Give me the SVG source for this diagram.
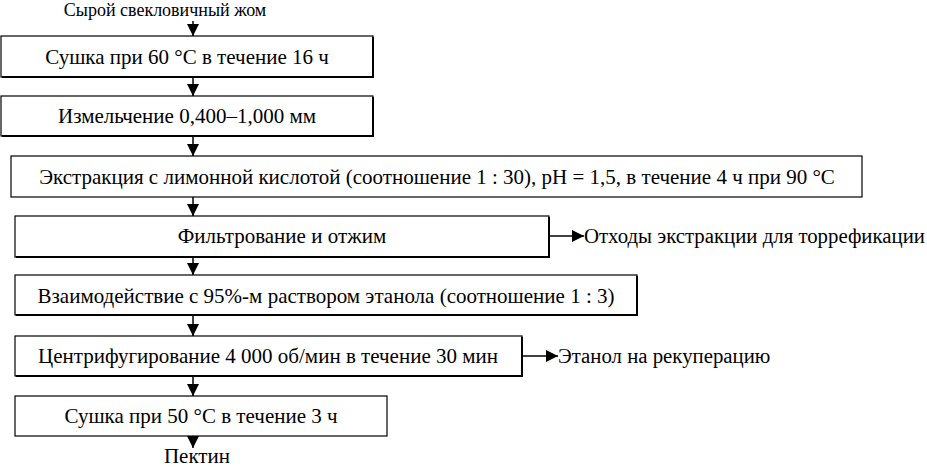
<svg xmlns="http://www.w3.org/2000/svg" width="927" height="467" viewBox="0 0 927 467">
<style>
.b{fill:#fff;stroke:#000;stroke-width:1.2}
.s{fill:none;stroke:#000;stroke-width:2}
.t{font-family:"Liberation Serif","Times New Roman","Liberation Sans",serif;font-size:21px;fill:#000}
.c{text-anchor:middle}
.r{font-size:20.8px}
.l{stroke:#000;stroke-width:1.5;fill:none}
</style>
<defs>
<marker id="a" markerUnits="userSpaceOnUse" markerWidth="12" markerHeight="12" refX="12" refY="6" orient="auto">
<path d="M0,0 L12,6 L0,12 z" fill="#000"/>
</marker>
</defs>
<rect width="927" height="467" fill="#fff"/>
<text id="t0" class="t c" x="165" y="16" style="font-size:18px">Сырой свекловичный жом</text>
<g id="n1"><rect class="b" x="1" y="36" width="372" height="41"/><path class="s" d="M373,37 V77 H2"/><text class="t c" x="187" y="64">Сушка при 60 °С в течение 16 ч</text></g>
<g id="n2"><rect class="b" x="1" y="96" width="372" height="40"/><path class="s" d="M373,97 V136 H2"/><text class="t c" x="187" y="123">Измельчение 0,400–1,000 мм</text></g>
<g id="n3"><rect class="b" x="11" y="156" width="851" height="41"/><text class="t c" x="437" y="184">Экстракция с лимонной кислотой (соотношение 1 : 30), pH = 1,5, в течение 4 ч при 90 °С</text></g>
<g id="n4"><rect class="b" x="15" y="216" width="534" height="41"/><path class="s" d="M549,217 V257 H16"/><text class="t c" x="282" y="243">Фильтрование и отжим</text></g>
<g id="n5"><rect class="b" x="15" y="275" width="622" height="40"/><path class="s" d="M637,276 V315 H16"/><text class="t c" x="326" y="303">Взаимодействие с 95%-м раствором этанола (соотношение 1 : 3)</text></g>
<g id="n6"><rect class="b" x="15" y="336" width="507" height="40"/><path class="s" d="M522,337 V376 H16"/><text class="t c" x="268" y="363">Центрифугирование 4 000 об/мин в течение 30 мин</text></g>
<g id="n7"><rect class="b" x="15" y="396" width="372" height="40"/><text class="t c" x="201" y="423">Сушка при 50 °С в течение 3 ч</text></g>
<text id="t1" class="t r" x="584" y="243">Отходы экстракции для торрефикации</text>
<text id="t2" class="t r" x="558" y="363">Этанол на рекуперацию</text>
<text id="t3" class="t c" x="197" y="463">Пектин</text>
<g id="connectors">
<line class="l" x1="193" y1="21" x2="193" y2="36" marker-end="url(#a)"/>
<line class="l" x1="193" y1="78" x2="193" y2="96" marker-end="url(#a)"/>
<line class="l" x1="193" y1="137" x2="193" y2="156" marker-end="url(#a)"/>
<line class="l" x1="193" y1="197" x2="193" y2="216" marker-end="url(#a)"/>
<line class="l" x1="193" y1="258" x2="193" y2="275" marker-end="url(#a)"/>
<line class="l" x1="193" y1="316" x2="193" y2="336" marker-end="url(#a)"/>
<line class="l" x1="193" y1="377" x2="193" y2="396" marker-end="url(#a)"/>
<line class="l" x1="193" y1="436" x2="193" y2="448" marker-end="url(#a)"/>
<line class="l" x1="550" y1="236" x2="584" y2="236" marker-end="url(#a)"/>
<line class="l" x1="523" y1="356" x2="558" y2="356" marker-end="url(#a)"/>
</g>
</svg>
